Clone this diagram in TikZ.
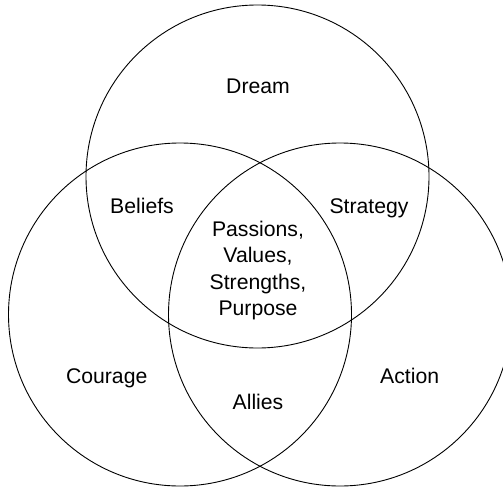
\documentclass[tikz,border=0pt]{standalone}
\usepackage{fontspec}
\setmainfont{Liberation Sans}
\begin{document}
\begin{tikzpicture}[x=1pt,y=-1pt,
  ring/.style={draw=black,line width=0.9pt},
  lbl/.style={anchor=base,inner sep=0pt,font=\fontsize{21.2}{26.5}\selectfont,align=center}]
\useasboundingbox (0,0) rectangle (503,487);
% three overlapping circles
\draw[ring] (257.5,176.5) circle[radius=171.5pt];
\draw[ring] (180,314.5) circle[radius=171.5pt];
\draw[ring] (340,314.5) circle[radius=171.5pt];
% region labels
\node[lbl] (dream) at (258,93.3) {Dream};
\node[lbl] (beliefs) at (142,213.3) {Beliefs};
\node[lbl] (strategy) at (369,213.3) {Strategy};
\node[lbl] (courage) at (106.7,383) {Courage};
\node[lbl] (action) at (409.7,383) {Action};
\node[lbl] (allies) at (258,409.5) {Allies};
\node[lbl,anchor=north] (core) at (258,220.5) {Passions,\\Values,\\Strengths,\\Purpose};
\end{tikzpicture}
\end{document}
